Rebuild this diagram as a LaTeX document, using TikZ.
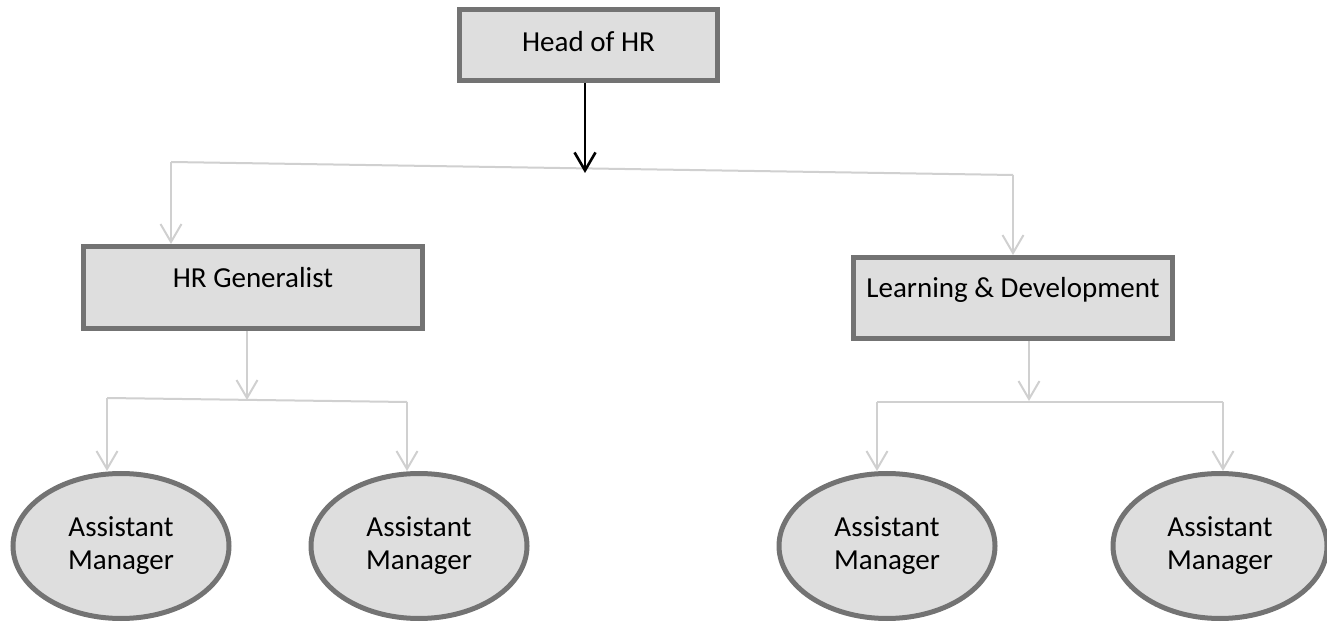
\documentclass[tikz,border=0pt]{standalone}
\usepackage{fontspec}
\setmainfont{Carlito}
\usetikzlibrary{arrows.meta,shapes.geometric}
\definecolor{boxfill}{HTML}{DEDEDE}
\definecolor{boxline}{HTML}{737373}
\definecolor{connline}{HTML}{D0D0D0}
\begin{document}
\begin{tikzpicture}[x=0.5pt,y=-0.5pt,
  box/.style={draw=boxline,fill=boxfill,line width=2.5pt,rectangle,inner sep=0pt,
    font=\fontsize{14.5}{16.5}\selectfont},
  oval/.style={draw=boxline,fill=boxfill,line width=2.5pt,ellipse,inner sep=0pt,
    minimum width=108pt,minimum height=72.5pt,align=center,
    font=\fontsize{14.5}{16.5}\selectfont},
  link/.style={draw=connline,line width=1pt,-{Straight Barb[length=9pt,width=10.5pt]}},
  plainlink/.style={draw=connline,line width=1pt},
  mainlink/.style={draw=black,line width=1.3pt,-{Straight Barb[length=9pt,width=10.5pt]}}]
\useasboundingbox (0,0) rectangle (1327,624);
% nodes
\node[box,minimum width=129pt,minimum height=35.5pt,text height=10pt,text depth=3pt] (head) at (588.5,45) {Head of HR};
\node[box,minimum width=169.5pt,minimum height=41pt,text height=10pt,text depth=10pt] (hrg) at (253,287.5) {HR Generalist};
\node[box,minimum width=159.5pt,minimum height=40.5pt,text height=10pt,text depth=10pt] (ld) at (1013,298) {Learning \& Development};
\node[oval] (a1) at (121,546) {Assistant\\Manager};
\node[oval] (a2) at (419,546) {Assistant\\Manager};
\node[oval] (a3) at (887,546) {Assistant\\Manager};
\node[oval,minimum width=107pt] (a4) at (1220,546) {Assistant\\Manager};
% junction coordinates
\coordinate (tl) at (171,162);
\coordinate (tr) at (1013,175);
\coordinate (hj) at (585,173);
\coordinate (gl) at (107,398);
\coordinate (gr) at (407,402);
\coordinate (gj) at (247,400);
\coordinate (dl) at (877,402);
\coordinate (dr) at (1223,402);
\coordinate (dj) at (1029,401);
% connectors
\draw[plainlink] (tl) -- (tr);
\draw[link] (tl) -- (hrg.north -| tl);
\draw[link] (tr) -- (ld.north -| tr);
\draw[mainlink] (head.south -| hj) -- (hj);
\draw[plainlink] (gl) -- (gr);
\draw[link] (hrg.south -| gj) -- (gj);
\draw[link] (gl) -- (a1.north -| gl);
\draw[link] (gr) -- (a2.north -| gr);
\draw[plainlink] (dl) -- (dr);
\draw[link] (ld.south -| dj) -- (dj);
\draw[link] (dl) -- (a3.north -| dl);
\draw[link] (dr) -- (a4.north -| dr);
\end{tikzpicture}
\end{document}
